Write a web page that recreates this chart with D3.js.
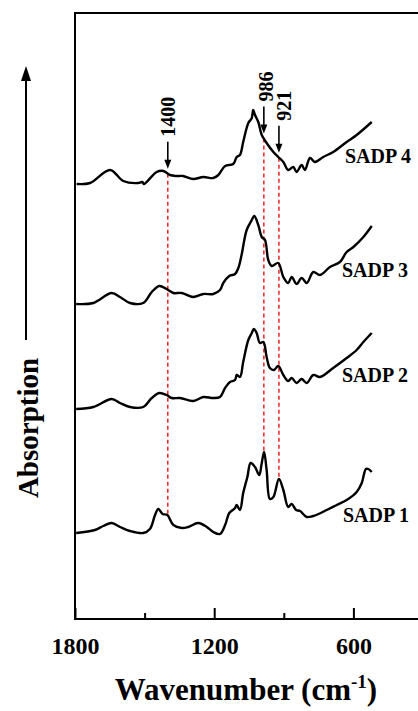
<!DOCTYPE html>
<html><head><meta charset="utf-8">
<script src="https://cdn.jsdelivr.net/npm/d3@7"></script>
<style>body{margin:0;background:#fff}</style></head>
<body><svg id="c" width="418" height="711"></svg>
<script>
// ---------- data ----------
const seriesNames = ["SADP 1", "SADP 2", "SADP 3", "SADP 4"];
const seriesOffsets = [86, 210, 315, 435]; // vertical stacking offsets (a.u.)

const sadp1Wn = [1795,1714,1678,1642,1606,1563,1506,1477,1455,1441,1422,1402,1376,1340,1312,1269,1232,1204,1175,1153,1135,1110,1103,1089,1075,1057,1043,1024,1006,995,985,974,960,945,921,902,881,866,847,830,801,773,715,672,629,586,564,546,536,521];
const sadp1Abs = [0,3,7,10,6,2,0,4,18,24,19,18,8,5,6,10,6,1,-1,8,20,25,28,23,40,56,70,66,58,70,81,63,34,36,54,43,26,29,23,22,16,17,23,28,33,41,50,64,64,61];

const sadp2Wn = [1795,1721,1642,1606,1563,1506,1469,1437,1405,1383,1347,1290,1247,1204,1175,1153,1132,1110,1103,1089,1075,1053,1038,1029,1017,1003,988,974,960,942,924,902,881,866,845,823,801,773,744,687,629,586,557,521];
const sadp2Abs = [0,2,10,6,2,2,11,16,14,11,11,8,12,11,12,21,27,29,34,32,47,69,76,80,76,66,67,52,41,39,43,34,28,31,26,30,26,34,32,41,51,59,67,76];

const sadp3Wn = [1795,1721,1642,1606,1563,1506,1469,1437,1405,1376,1340,1290,1247,1204,1175,1161,1135,1110,1096,1082,1060,1038,1027,1010,995,981,967,952,924,902,881,866,845,823,801,773,744,701,658,629,600,557,521];
const sadp3Abs = [0,1,11,7,1,1,12,18,15,11,11,7,10,10,14,21,28,30,36,49,74,84,88,79,67,64,44,38,41,27,21,27,20,26,21,32,29,37,42,52,57,67,78];

const sadp4Wn = [1793,1735,1649,1592,1527,1510,1503,1448,1419,1391,1362,1335,1290,1247,1204,1182,1153,1118,1103,1089,1075,1053,1038,1032,1024,1010,995,974,945,924,902,881,859,845,823,809,787,766,730,687,629,586,521];
const sadp4Abs = [0,1,14,3,1,2,0,12,13,9,8,8,5,7,6,9,18,20,27,29,42,61,66,74,69,62,49,41,32,27,22,14,17,12,19,14,26,22,27,32,42,49,62];

const majorTicks = [1800, 1200, 600];
const minorTicks = [1500, 900];
const peakWn = [1400, 986, 921];
const peakLabels = ["1400", "986", "921"];

// ---------- drawing ----------
const FONT = "'Liberation Serif','Times New Roman',serif";
const svg = d3.select("#c");
const x = d3.scaleLinear().domain([1800, 300]).range([75, 423]);
const y = d3.scaleLinear().domain([0, 606]).range([619, 13]);

const wnArr = [sadp1Wn, sadp2Wn, sadp3Wn, sadp4Wn];
const abArr = [sadp1Abs, sadp2Abs, sadp3Abs, sadp4Abs];

function valAt(wn, ab, w) {
  for (let i = 0; i < wn.length - 1; i++) {
    if (w <= wn[i] && w >= wn[i + 1]) {
      const t = (wn[i] - w) / (wn[i] - wn[i + 1]);
      return ab[i] + t * (ab[i + 1] - ab[i]);
    }
  }
  return ab[ab.length - 1];
}

// frame
svg.append("path")
  .attr("d", `M${x(300)},${y(606)}H${x(1800)}V${y(0)}H${x(300)}V${y(606)}`)
  .attr("fill", "none").attr("stroke", "#000").attr("stroke-width", 2);

// axes
const gx = svg.append("g").attr("transform", `translate(0,${y(0)})`);
gx.call(d3.axisBottom(x).tickValues(majorTicks).tickSizeInner(-11).tickSizeOuter(0).tickFormat(d3.format("d")));
gx.select(".domain").remove();
gx.selectAll(".tick line").attr("stroke", "#000").attr("stroke-width", 2);
gx.selectAll(".tick text").attr("y", 35).attr("dy", 0)
  .attr("font-family", FONT).attr("font-weight", "bold").attr("font-size", 24).attr("fill", "#000");
const gm = svg.append("g").attr("transform", `translate(0,${y(0)})`);
gm.call(d3.axisBottom(x).tickValues(minorTicks).tickSizeInner(-6).tickSizeOuter(0).tickFormat(""));
gm.select(".domain").remove();
gm.selectAll(".tick line").attr("stroke", "#000").attr("stroke-width", 2);

// x title
const xt = svg.append("text").attr("x", 246).attr("y", 700).attr("text-anchor", "middle")
  .attr("font-family", FONT).attr("font-weight", "bold").attr("font-size", 31).attr("fill", "#000");
xt.append("tspan").text("Wavenumber (cm");
xt.append("tspan").attr("font-size", 19).attr("dy", -12).text("-1");
xt.append("tspan").attr("dy", 12).text(")");

// y title with arrow
svg.append("line").attr("x1", 26).attr("x2", 26).attr("y1", 340).attr("y2", 78)
  .attr("stroke", "#000").attr("stroke-width", 2);
svg.append("path").attr("d", "M26,66L21,81L31,81Z").attr("fill", "#000");
svg.append("text").attr("transform", "translate(28,428) rotate(-90)")
  .attr("text-anchor", "middle").attr("dy", "0.35em")
  .attr("font-family", FONT).attr("font-weight", "bold").attr("font-size", 29).attr("fill", "#000")
  .text("Absorption");

// dashed reference lines
const top4 = peakWn.map(w => y(valAt(sadp4Wn, sadp4Abs, w) + seriesOffsets[3]));
const bot1 = peakWn.map(w => y(valAt(sadp1Wn, sadp1Abs, w) + seriesOffsets[0]));
peakWn.forEach((w, i) => {
  svg.append("line").attr("x1", x(w)).attr("x2", x(w)).attr("y1", top4[i]).attr("y2", bot1[i])
    .attr("stroke", "#ee2222").attr("stroke-width", 1.5).attr("stroke-dasharray", "4,3");
});

// spectra
const line = d3.line().x(d => x(d[0])).y(d => y(d[1])).curve(d3.curveCatmullRom.alpha(0.5));
seriesNames.forEach((name, i) => {
  const pts = wnArr[i].map((w, j) => [w, abArr[i][j] + seriesOffsets[i]]);
  svg.append("path").attr("d", line(pts)).attr("fill", "none")
    .attr("stroke", "#000").attr("stroke-width", 2.4).attr("stroke-linejoin", "round");
});

// series labels
const labelPos = [[343, 522], [342, 382], [342, 277], [345, 163]];
seriesNames.forEach((name, i) => {
  svg.append("text").attr("x", labelPos[i][0]).attr("y", labelPos[i][1])
    .attr("font-family", FONT).attr("font-weight", "bold").attr("font-size", 20).attr("fill", "#000")
    .text(name);
});

// peak arrows + labels
const labelDx = [0, 2, 5];
peakWn.forEach((w, i) => {
  const ax = x(w);
  const tip = top4[i] - 5, tail = tip - 27;
  svg.append("line").attr("x1", ax).attr("x2", ax).attr("y1", tail).attr("y2", tip - 6)
    .attr("stroke", "#000").attr("stroke-width", 1.6);
  svg.append("path").attr("d", `M${ax},${tip}L${ax - 3.5},${tip - 9}L${ax + 3.5},${tip - 9}Z`).attr("fill", "#000");
  svg.append("text").attr("transform", `translate(${ax + labelDx[i]},${tail - 5}) rotate(-90)`)
    .attr("dy", "0.35em").attr("text-anchor", "start")
    .attr("font-family", FONT).attr("font-weight", "bold").attr("font-size", 20).attr("fill", "#000")
    .text(peakLabels[i]);
});
</script></body></html>
